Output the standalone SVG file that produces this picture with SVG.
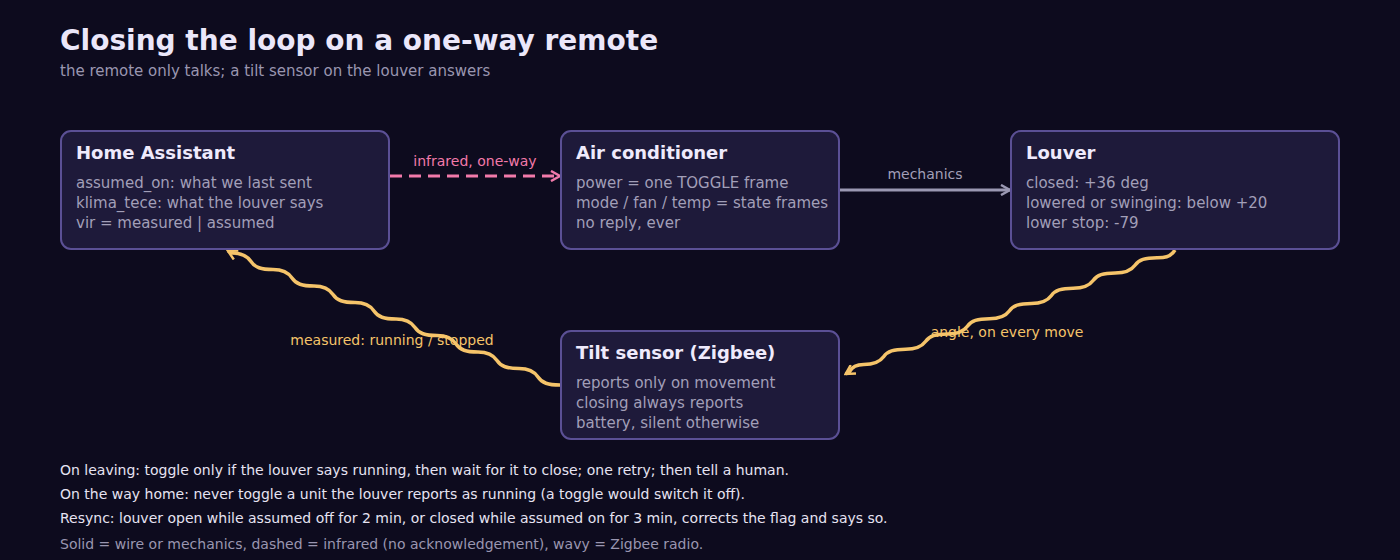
<svg xmlns="http://www.w3.org/2000/svg" width="1400" height="560" viewBox="0 0 1400 560">
<style>
text{font-family:"DejaVu Sans",sans-serif}
.box{fill:#1e1a3a;stroke:#5b5095;stroke-width:2}
.t{fill:#efeafc;font-size:18px;font-weight:bold}
.b{fill:#a29fb8;font-size:15px}
.note{fill:#e6e3f2;font-size:14px}
</style>
<defs>
<marker id="ap" viewBox="0 0 12 12" refX="10" refY="6" markerWidth="12" markerHeight="12" markerUnits="userSpaceOnUse" orient="auto"><path d="M1,1 L10,6 L1,11" fill="none" stroke="#f27aaa" stroke-width="2.5"/></marker>
<marker id="ag" viewBox="0 0 12 12" refX="10" refY="6" markerWidth="12" markerHeight="12" markerUnits="userSpaceOnUse" orient="auto"><path d="M1,1 L10,6 L1,11" fill="none" stroke="#9a98b2" stroke-width="2.5"/></marker>
<marker id="ay" viewBox="0 0 12 12" refX="10" refY="6" markerWidth="12" markerHeight="12" markerUnits="userSpaceOnUse" orient="auto"><path d="M1,1 L10,6 L1,11" fill="none" stroke="#f5c46a" stroke-width="2.5"/></marker>
</defs>
<rect width="1400" height="560" fill="#0d0b1e"/>
<text x="60" y="50" fill="#ebe7fa" font-size="28" font-weight="bold">Closing the loop on a one-way remote</text>
<text x="60" y="76" fill="#9a96b0" font-size="15">the remote only talks; a tilt sensor on the louver answers</text>
<g id="connectors" fill="none" stroke-width="3">
<path d="M390,176 H560" stroke="#f27aaa" stroke-dasharray="12,7" marker-end="url(#ap)"/>
<path d="M840,190 H1010" stroke="#9a98b2" marker-end="url(#ag)"/>
<path d="M560,385 c-12,0 -18,-2 -22,-8 s-10,-8.5 -19,-8.5 c-12,0 -18,-2 -22,-8 s-10,-8.5 -19,-8.5 c-12,0 -18,-2 -22,-8 s-10,-8.5 -19,-8.5 c-12,0 -18,-2 -22,-8 s-10,-8.5 -19,-8.5 c-12,0 -18,-2 -22,-8 s-10,-8.5 -19,-8.5 c-12,0 -18,-2 -22,-8 s-10,-8.5 -19,-8.5 c-12,0 -18,-2 -22,-8 s-10,-8.5 -19,-8.5 c-12,0 -18,-2 -22,-8 s-10,-8.5 -19,-8.5 l-4,-2" stroke="#f5c46a" stroke-width="3.5" marker-end="url(#ay)"/>
<path d="M1175,250 c-5,8 -12,7.75 -18,7.75 c-12,0 -18,2 -22,7.5 s-10,7.75 -19.9,7.75 c-12,0 -18,2 -22,7.5 s-10,7.75 -19.9,7.75 c-12,0 -18,2 -22,7.5 s-10,7.75 -19.9,7.75 c-12,0 -18,2 -22,7.5 s-10,7.75 -19.9,7.75 c-12,0 -18,2 -22,7.5 s-10,7.75 -19.9,7.75 c-12,0 -18,2 -22,7.5 s-10,7.75 -19.9,7.75 c-12,0 -18,2 -22,7.5 s-10,7.75 -19.9,7.75 c-8,0 -12,3 -14,7 l-4,2.5" stroke="#f5c46a" stroke-width="3.5" marker-end="url(#ay)"/>
<text x="475" y="166" fill="#f27aaa" font-size="14" text-anchor="middle">infrared, one-way</text>
<text x="925" y="179" fill="#a29fb8" font-size="14" text-anchor="middle">mechanics</text>
<text x="392" y="345" fill="#f5c46a" font-size="14" text-anchor="middle">measured: running / stopped</text>
<text x="1007" y="337" fill="#f5c46a" font-size="14" text-anchor="middle">angle, on every move</text>
</g>
<g id="home-assistant"><rect class="box" x="61" y="131" width="328" height="118" rx="10"/>
<text class="t" x="76" y="159">Home Assistant</text>
<text class="b" x="76" y="188">assumed_on: what we last sent</text><text class="b" x="76" y="208">klima_tece: what the louver says</text><text class="b" x="76" y="228">vir = measured | assumed</text></g>
<g id="air-conditioner"><rect class="box" x="561" y="131" width="278" height="118" rx="10"/>
<text class="t" x="576" y="159">Air conditioner</text>
<text class="b" x="576" y="188">power = one TOGGLE frame</text><text class="b" x="576" y="208">mode / fan / temp = state frames</text><text class="b" x="576" y="228">no reply, ever</text></g>
<g id="louver"><rect class="box" x="1011" y="131" width="328" height="118" rx="10"/>
<text class="t" x="1026" y="159">Louver</text>
<text class="b" x="1026" y="188">closed: +36 deg</text><text class="b" x="1026" y="208">lowered or swinging: below +20</text><text class="b" x="1026" y="228">lower stop: -79</text></g>
<g id="tilt-sensor"><rect class="box" x="561" y="331" width="278" height="108" rx="10"/>
<text class="t" x="576" y="359">Tilt sensor (Zigbee)</text>
<text class="b" x="576" y="388">reports only on movement</text><text class="b" x="576" y="408">closing always reports</text><text class="b" x="576" y="428">battery, silent otherwise</text></g>
<text class="note" x="60" y="475">On leaving: toggle only if the louver says running, then wait for it to close; one retry; then tell a human.</text>
<text class="note" x="60" y="499">On the way home: never toggle a unit the louver reports as running (a toggle would switch it off).</text>
<text class="note" x="60" y="523">Resync: louver open while assumed off for 2 min, or closed while assumed on for 3 min, corrects the flag and says so.</text>
<text x="60" y="549" fill="#9a96b0" font-size="14">Solid = wire or mechanics, dashed = infrared (no acknowledgement), wavy = Zigbee radio.</text>
</svg>
